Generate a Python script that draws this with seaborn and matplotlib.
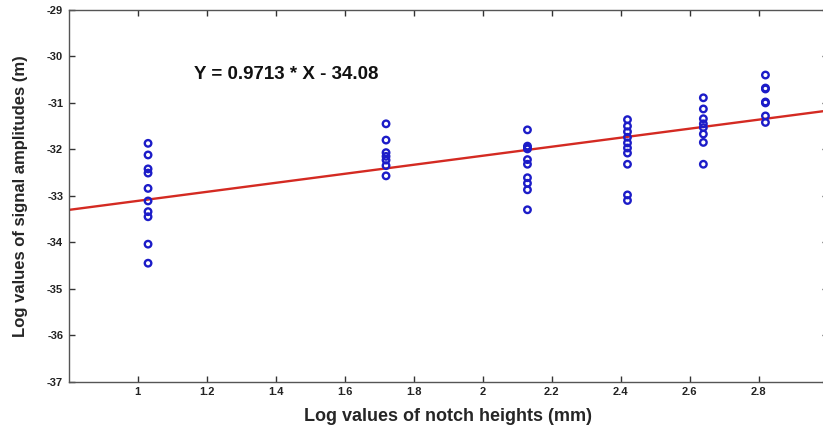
import pandas as pd
import matplotlib
matplotlib.use('Agg')
import matplotlib.pyplot as plt
import seaborn as sns

# -----------------------------
# Data: log notch height groups and measured log amplitudes
# -----------------------------
x_groups = [1.03, 1.72, 2.13, 2.42, 2.64, 2.82]
amp_g1 = [-31.87, -32.12, -32.42, -32.51, -32.84, -33.11, -33.34, -33.45, -34.04, -34.45]
amp_g2 = [-31.45, -31.80, -32.07, -32.15, -32.23, -32.35, -32.57]
amp_g3 = [-31.58, -31.93, -31.96, -31.99, -32.22, -32.32, -32.61, -32.73, -32.87, -33.30]
amp_g4 = [-31.36, -31.50, -31.62, -31.74, -31.86, -31.97, -32.08, -32.32, -32.98, -33.10]
amp_g5 = [-30.89, -31.13, -31.34, -31.45, -31.53, -31.67, -31.85, -32.32]
amp_g6 = [-30.40, -30.68, -30.70, -30.98, -31.00, -31.28, -31.42]

slope = 0.9713
intercept = -34.08
fit_x = [0.8, 3.0]

x_ticks = [1, 1.2, 1.4, 1.6, 1.8, 2, 2.2, 2.4, 2.6, 2.8, 3]
y_ticks = [-37, -36, -35, -34, -33, -32, -31, -30, -29]

rows = []
for xg, amps in zip(x_groups, [amp_g1, amp_g2, amp_g3, amp_g4, amp_g5, amp_g6]):
    for a in amps:
        rows.append({'x': xg, 'y': a})
df = pd.DataFrame(rows)
fit = pd.DataFrame({'x': fit_x, 'y': [slope * v + intercept for v in fit_x]})

# -----------------------------
# Style
# -----------------------------
sns.set_style('ticks')
plt.rcParams['font.family'] = ['Liberation Sans', 'DejaVu Sans']

fig = plt.figure(figsize=(8.23, 4.29), dpi=100)
ax = fig.add_axes([0.0835, 0.1103, 0.922, 0.8664])

sns.lineplot(data=fit, x='x', y='y', ax=ax, color='#d42a22', linewidth=1.7, zorder=2)
sns.scatterplot(data=df, x='x', y='y', ax=ax, marker='o', s=22,
                facecolors='none', edgecolor='#1c1cc8', linewidth=1.7, zorder=3)

ax.set_xlim(0.8, 3.0)
ax.set_ylim(-37, -29)
ax.set_xticks(x_ticks)
ax.set_xticklabels([f'{v:g}' for v in x_ticks])
ax.set_yticks(y_ticks)
ax.set_yticklabels([f'{v:g}' for v in y_ticks])
ax.tick_params(direction='in', length=4, width=1, top=True, right=True,
               labelsize=8, colors='#333333', pad=4)
for lab in ax.get_xticklabels() + ax.get_yticklabels():
    lab.set_fontweight('bold')
    lab.set_color('#222222')
for sp in ax.spines.values():
    sp.set_color('#555555')
    sp.set_linewidth(1)

ax.set_xlabel('Log values of notch heights (mm)', fontsize=13, fontweight='bold', labelpad=8)
ax.set_ylabel('Log values of signal amplitudes (m)', fontsize=12, fontweight='bold', labelpad=14)

ax.text(1.163, -30.38, 'Y = 0.9713 * X - 34.08', fontsize=13.5, fontweight='bold',
        ha='left', va='center', color='#111111')

fig.savefig('out.png', dpi=100)
